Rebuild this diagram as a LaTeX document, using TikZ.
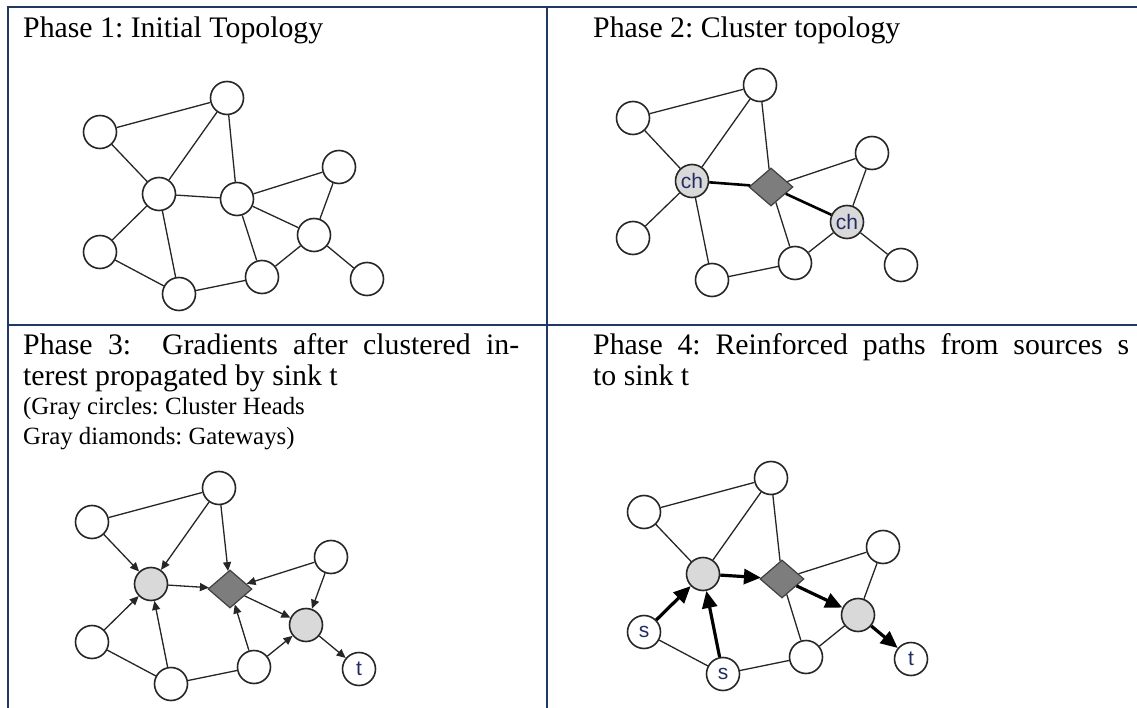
\documentclass[tikz,border=0pt]{standalone}
\usepackage{fontspec}
\setmainfont{Liberation Serif}
\newfontfamily\lbsans{Liberation Sans}
\usetikzlibrary{shapes.geometric,arrows.meta}
\definecolor{tblborder}{RGB}{31,56,100}
\definecolor{chgray}{RGB}{217,217,217}
\definecolor{gwgray}{RGB}{125,125,125}
\definecolor{lbl}{RGB}{35,45,100}
\frenchspacing
\begin{document}
\begin{tikzpicture}[x=1pt,y=-1pt,
  plainnode/.style={circle,draw=black!85,line width=1.6pt,fill=white,minimum size=33pt,inner sep=0pt,
    font=\lbsans\fontsize{21pt}{21pt}\selectfont,text=lbl},
  headnode/.style={plainnode,fill=chgray},
  gatenode/.style={diamond,draw=black!75,line width=1.2pt,fill=gwgray,minimum width=44pt,minimum height=38pt,inner sep=0pt},
  edge/.style={draw=black!85,line width=1.3pt},
  thickedge/.style={draw=black,line width=2.6pt},
  grad/.style={edge,-{Triangle[length=9pt,width=8pt]}},
  reinf/.style={draw=black,line width=3.2pt,-{Triangle[length=17pt,width=15pt]}},
  title/.style={anchor=base west,inner sep=0pt,font=\fontsize{29.8pt}{30pt}\selectfont},
  note/.style={anchor=base west,inner sep=0pt,font=\fontsize{24.8pt}{25pt}\selectfont},
  border/.style={draw=tblborder,line width=2pt}]
\useasboundingbox (0,0) rectangle (1137,708);
\fill[white] (0,0) rectangle (1137,708);

% table borders
\draw[border] (6.5,7.5) -- (1137,7.5);
\draw[border] (7.5,6.5) -- (7.5,708);
\draw[border] (547,6.5) -- (547,708);
\draw[border] (7.5,325) -- (1137,325);
\draw[draw=tblborder,line width=1pt] (27,326) -- (425,326);

% texts
\node[title] (t1) at (23,38) {Phase 1: Initial Topology};
\node[title] (t2) at (593,38) {Phase 2: Cluster topology};
\node[title] (t3a) at (23,355) {\makebox[496pt][s]{Phase 3:\ \ Gradients after clustered in-}};
\node[title] (t3b) at (23,385) {terest propagated by sink t};
\node[note] (t3c) at (23,414) {(Gray circles: Cluster Heads};
\node[note] (t3d) at (23,444) {Gray diamonds: Gateways)};
\node[title] (t4a) at (593,355) {\makebox[536pt][s]{Phase 4: Reinforced paths from sources s}};
\node[title] (t4b) at (593,385) {to sink t};

% Phase 1
\begin{scope}
\node[plainnode] (a1) at (100,132) {};
\node[plainnode] (b1) at (227,98) {};
\node[plainnode] (c1) at (159,194) {};
\node[plainnode] (d1) at (237,199) {};
\node[plainnode] (e1) at (339,167) {};
\node[plainnode] (f1) at (314,235) {};
\node[plainnode] (g1) at (100,252) {};
\node[plainnode] (h1) at (179,294) {};
\node[plainnode] (i1) at (262,277) {};
\node[plainnode] (j1) at (367,279) {};
\draw[edge] (a1)--(b1) (a1)--(c1) (b1)--(c1) (b1)--(d1) (c1)--(d1) (c1)--(g1) (c1)--(h1)
  (d1)--(e1) (d1)--(f1) (d1)--(i1) (e1)--(f1) (f1)--(i1) (f1)--(j1) (g1)--(h1) (h1)--(i1);
\end{scope}

% Phase 2
\begin{scope}[shift={(533,-14)}]
\node[plainnode] (a2) at (100,132) {};
\node[plainnode] (b2) at (227,99) {};
\node[headnode] (c2) at (159,195) {ch};
\node[gatenode] (d2) at (238,201) {};
\node[plainnode] (e2) at (339,167) {};
\node[headnode] (f2) at (314,236) {ch};
\node[plainnode] (g2) at (100,252) {};
\node[plainnode] (h2) at (179,294) {};
\node[plainnode] (i2) at (262,277) {};
\node[plainnode] (j2) at (368,279) {};
\draw[edge] (a2)--(b2) (a2)--(c2) (b2)--(c2) (b2)--(d2) (c2)--(g2) (c2)--(h2)
  (d2)--(e2) (d2)--(i2) (e2)--(f2) (f2)--(i2) (f2)--(j2) (h2)--(i2);
\draw[thickedge] (c2)--(d2) (d2)--(f2);
\end{scope}

% Phase 3
\begin{scope}[shift={(-8,390)}]
\node[plainnode] (a3) at (100,132) {};
\node[plainnode] (b3) at (227,98) {};
\node[headnode] (c3) at (159,194) {};
\node[gatenode] (d3) at (238,199) {};
\node[plainnode] (e3) at (339,167) {};
\node[headnode] (f3) at (314,235) {};
\node[plainnode] (g3) at (100,252) {};
\node[plainnode] (h3) at (179,294) {};
\node[plainnode] (i3) at (262,277) {};
\node[plainnode] (j3) at (367,279) {t};
\draw[edge] (a3)--(b3) (g3)--(h3) (h3)--(i3);
\draw[grad] (a3)--(c3);
\draw[grad] (b3)--(c3);
\draw[grad] (b3)--(d3);
\draw[grad] (c3)--(d3);
\draw[grad] (e3)--(d3);
\draw[grad] (e3)--(f3);
\draw[grad] (d3)--(f3);
\draw[grad] (g3)--(c3);
\draw[grad] (h3)--(c3);
\draw[grad] (i3)--(d3);
\draw[grad] (i3)--(f3);
\draw[grad] (f3)--(j3);
\end{scope}

% Phase 4
\begin{scope}[shift={(544,380)}]
\node[plainnode] (a4) at (100,132) {};
\node[plainnode] (b4) at (227,98) {};
\node[headnode] (c4) at (159,194) {};
\node[gatenode] (d4) at (238,199) {};
\node[plainnode] (e4) at (339,167) {};
\node[headnode] (f4) at (314,235) {};
\node[plainnode] (g4) at (100,252) {s};
\node[plainnode] (h4) at (179,294) {s};
\node[plainnode] (i4) at (262,277) {};
\node[plainnode] (j4) at (367,279) {t};
\draw[edge] (a4)--(b4) (a4)--(c4) (b4)--(c4) (b4)--(d4) (d4)--(e4) (d4)--(i4)
  (e4)--(f4) (f4)--(i4) (g4)--(h4) (h4)--(i4);
\draw[reinf] (c4)--(d4);
\draw[reinf] (d4)--(f4);
\draw[reinf] (f4)--(j4);
\draw[reinf] (g4)--(c4);
\draw[reinf] (h4)--(c4);
\end{scope}
\end{tikzpicture}
\end{document}
